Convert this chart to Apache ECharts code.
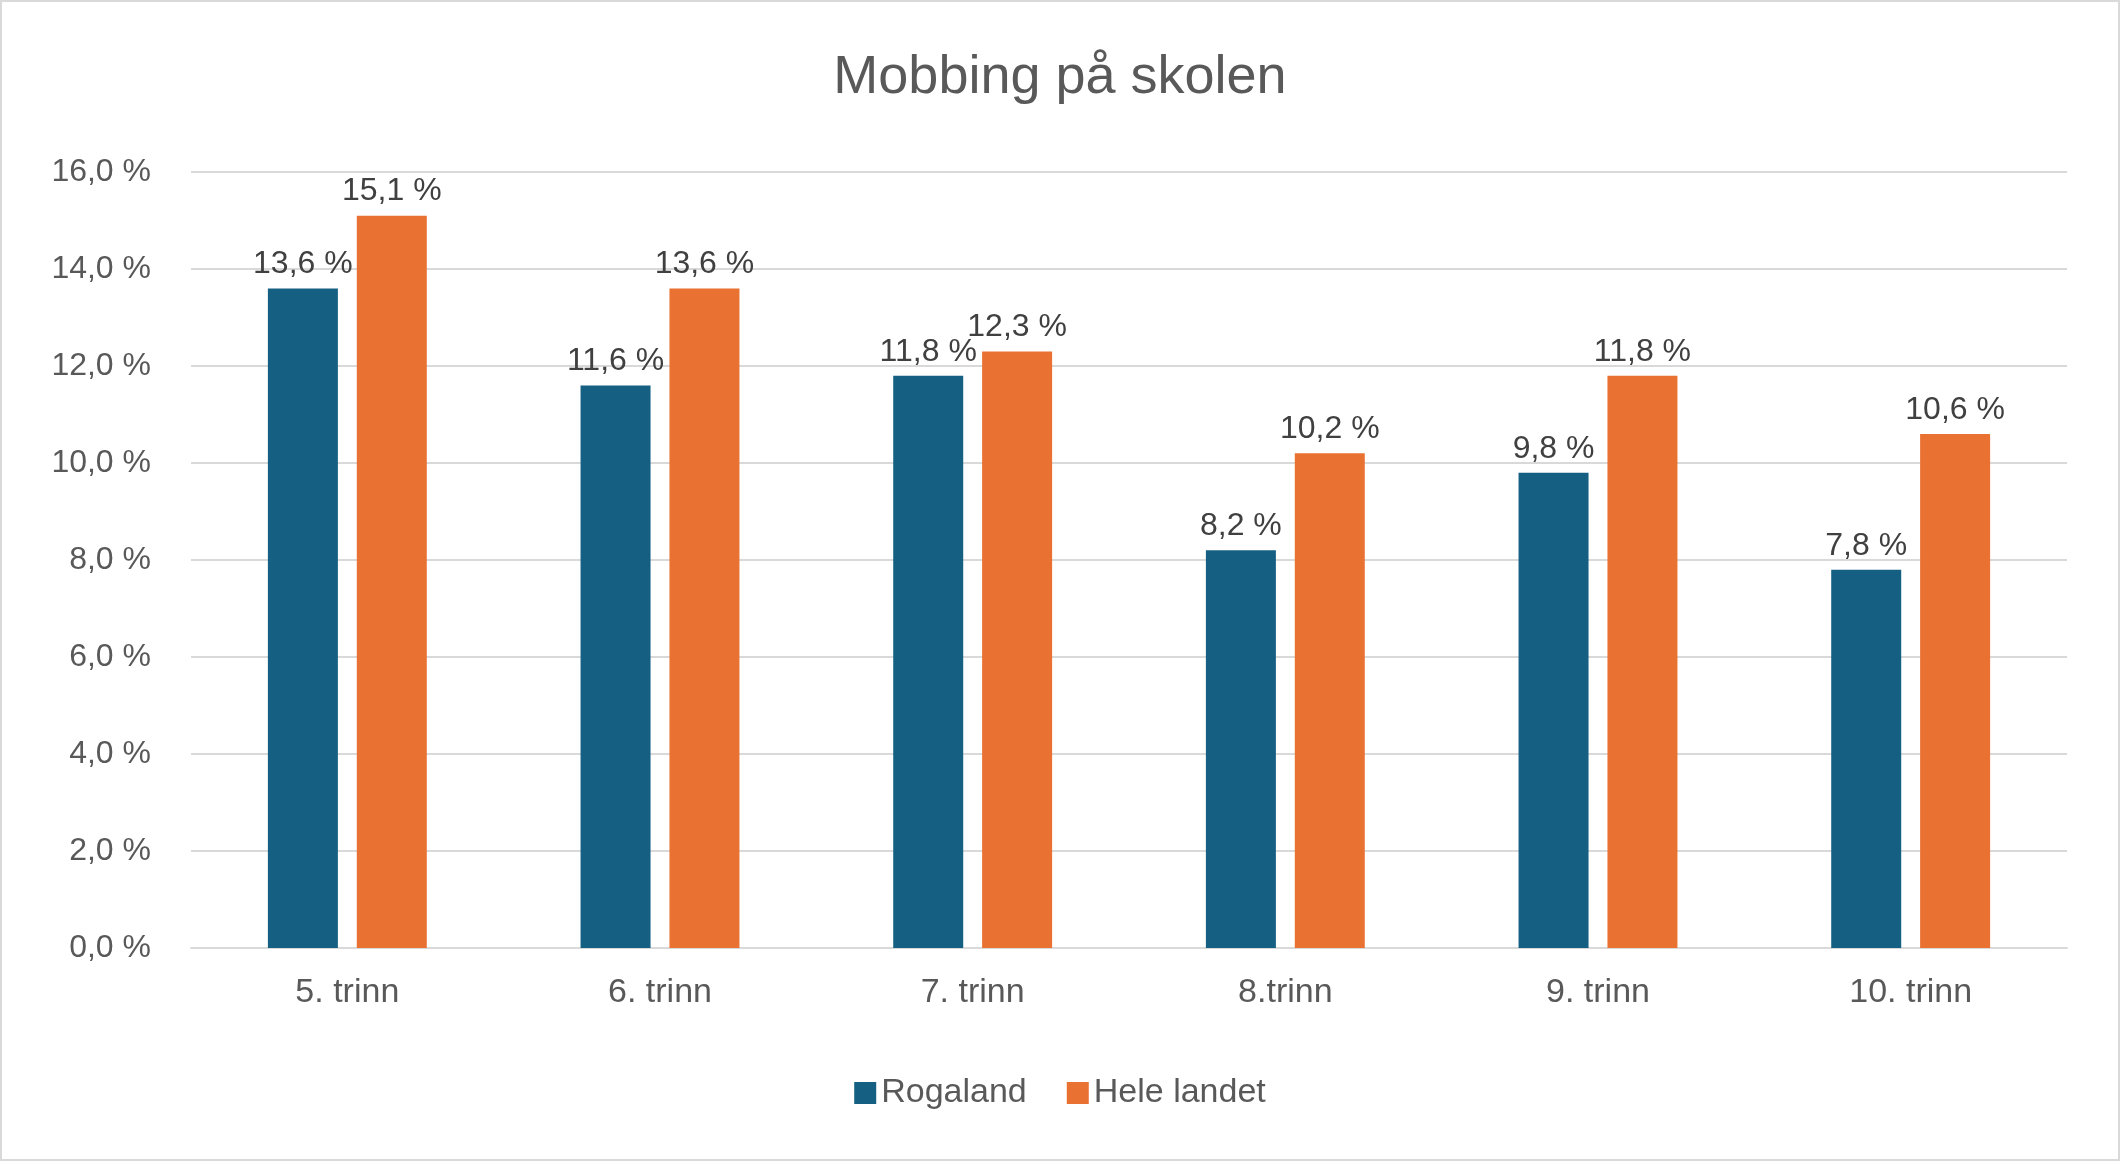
<!DOCTYPE html>
<html>
<head>
<meta charset="utf-8">
<script src="https://cdn.jsdelivr.net/npm/echarts@6/dist/echarts.min.js"></script>
<style>
html, body { margin: 0; padding: 0; background: #fff; }
#chart { width: 2120px; height: 1161px; box-sizing: border-box; border: 2px solid #d9d9d9; }
</style>
</head>
<body>
<div id="chart"></div>
<script>
var categories = ["5. trinn", "6. trinn", "7. trinn", "8.trinn", "9. trinn", "10. trinn"]
var rogaland = [13.6, 11.6, 11.8, 8.2, 9.8, 7.8]
var heleLandet = [15.1, 13.6, 12.3, 10.2, 11.8, 10.6]

function pct(v) {
    return v.toFixed(1).replace(".", ",") + " %"
}

var chart = echarts.init(document.getElementById("chart"))
var labelStyle = {
    show: true,
    position: 'top',
    distance: 8,
    color: '#404040',
    fontSize: 32,
    fontFamily: 'Liberation Sans',
    formatter: function (p) { return pct(p.value) }
}

var option = {
    animation: false,
    textStyle: { fontFamily: 'Liberation Sans' },
    title: {
        text: "Mobbing på skolen",
        left: 'center',
        top: 44,
        textStyle: { fontSize: 54, fontWeight: 'normal', color: '#595959' }
    },
    legend: {
        bottom: 44,
        itemWidth: 22,
        itemHeight: 22,
        itemGap: 40,
        icon: 'rect',
        textStyle: { fontSize: 34, color: '#595959' },
        data: ["Rogaland", "Hele landet"]
    },
    grid: { left: 189, right: 51, top: 170, bottom: 211, containLabel: false },
    xAxis: {
        type: 'category',
        data: categories,
        axisTick: { show: false },
        axisLine: { lineStyle: { color: '#d9d9d9', width: 2 } },
        axisLabel: { fontSize: 34, color: '#595959', margin: 28 }
    },
    yAxis: {
        type: 'value',
        min: 0,
        max: 16,
        interval: 2,
        axisLabel: { fontSize: 32, color: '#595959', margin: 40, formatter: function (v) { return pct(v) } },
        splitLine: { lineStyle: { color: '#d9d9d9', width: 2 } }
    },
    series: [
        {
            name: "Rogaland",
            type: 'bar',
            data: rogaland,
            barWidth: 70,
            barGap: '27%',
            itemStyle: { color: '#156082' },
            label: labelStyle
        },
        {
            name: "Hele landet",
            type: 'bar',
            data: heleLandet,
            barWidth: 70,
            itemStyle: { color: '#E97132' },
            label: labelStyle
        }
    ]
}
chart.setOption(option)
</script>
</body>
</html>
